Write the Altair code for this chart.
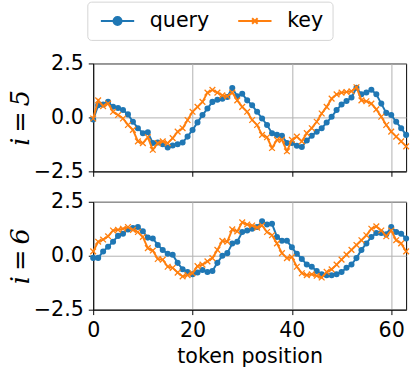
import altair as alt
import pandas as pd

positions = list(range(64))

query_i5 = [-0.10, 0.56, 0.60, 0.72, 0.49, 0.44, 0.34, 0.14,
            -0.20, -0.50, -0.73, -0.69, -1.19, -1.16, -1.24, -1.39,
            -1.30, -1.24, -1.16, -0.89, -0.58, -0.23, 0.11, 0.41,
            0.72, 0.82, 0.87, 0.95, 1.36, 0.98, 1.10, 0.79,
            0.56, 0.26, -0.05, -0.35, -0.73, -0.81, -0.85, -1.19,
            -1.19, -1.31, -1.37, -1.07, -0.85, -0.66, -0.50, -0.24,
            0.03, 0.34, 0.60, 0.76, 0.92, 1.37, 1.07, 1.15,
            1.28, 1.07, 0.64, 0.21, 0.11, -0.20, -0.50, -0.81]
key_i5 = [-0.05, 0.79, 0.52, 0.64, 0.26, 0.11, -0.05, -0.35,
          -0.58, -1.11, -1.19, -0.92, -1.50, -1.19, -1.11, -1.19,
          -0.96, -0.66, -0.50, -0.12, 0.26, 0.49, 0.72, 1.15,
          1.28, 1.15, 1.02, 0.98, 1.15, 0.79, 0.49, 0.26,
          -0.12, -0.35, -0.81, -0.92, -1.42, -1.04, -1.04, -1.57,
          -1.04, -0.89, -1.11, -0.73, -0.50, -0.20, 0.18, 0.49,
          0.87, 1.07, 1.15, 1.18, 1.21, 1.40, 0.79, 0.75,
          0.64, 0.37, 0.03, -0.35, -0.66, -0.89, -1.11, -1.34]
query_i6 = [-0.10, -0.10, 0.20, 0.42, 0.65, 0.92, 1.02, 1.22,
            1.28, 1.33, 1.13, 0.84, 0.80, 0.50, 0.27, 0.09,
            0.05, -0.33, -0.63, -0.75, -0.86, -0.78, -0.66, -0.75,
            -0.71, -0.33, 0.00, 0.12, 0.57, 0.65, 1.10, 1.17,
            1.25, 1.33, 1.60, 1.45, 1.48, 0.87, 0.69, 0.69,
            0.39, 0.09, -0.15, -0.41, -0.51, -0.71, -0.86, -0.90,
            -0.90, -0.86, -0.75, -0.56, -0.41, -0.11, 0.27, 0.57,
            0.87, 1.05, 1.05, 0.99, 1.33, 1.10, 1.02, 0.80]
key_i6 = [0.20, 0.65, 0.75, 0.90, 1.17, 1.20, 1.25, 1.33,
          1.20, 1.10, 0.87, 0.35, 0.24, -0.15, -0.18, -0.51,
          -0.56, -0.78, -0.96, -0.90, -0.81, -0.48, -0.41, -0.26,
          -0.11, 0.27, 0.69, 0.65, 1.22, 1.13, 1.55, 1.45,
          1.40, 1.30, 1.40, 1.10, 0.95, 0.57, 0.12, -0.11,
          -0.06, -0.51, -0.81, -0.90, -0.86, -0.93, -1.01, -0.75,
          -0.63, -0.41, -0.18, 0.05, 0.27, 0.50, 0.72, 0.95,
          1.25, 1.36, 1.17, 0.90, 1.17, 0.72, 0.57, 0.20]

series_names = ["query", "key"]
panel_titles = ["i\u2009=\u20095", "i\u2009=\u20096"]
x_ticks = [0, 20, 40, 60]
y_ticks = [-2.5, 0.0, 2.5]
x_title = "token position"

BLUE = "#1f77b4"
ORANGE = "#ff7f0e"
X_PATH = "M-1,-1L1,1M-1,1L1,-1"
# legend glyphs: a line 6 units wide with the marker in the middle
LEG_QUERY = "M-3,0L3,0M0.72,0A0.72,0.72 0 1,1 -0.72,0A0.72,0.72 0 1,1 0.72,0Z"
LEG_KEY = "M-3,0L3,0M-0.5,-0.5L0.5,0.5M-0.5,0.5L0.5,-0.5"

W, H = 319, 110

xscale = alt.Scale(domain=[0, 63], nice=False, zero=False)
yscale = alt.Scale(domain=[-2.5, 2.5], nice=False)
ylabel_expr = "replace(format(datum.value, '.1f'), '-', '\u2212')"


def panel(q, k, title, bottom, legend):
    dq = pd.DataFrame({"pos": positions, "value": q})
    dk = pd.DataFrame({"pos": positions, "value": k})
    if bottom:
        xenc = alt.X("pos:Q", scale=xscale, title=x_title,
                     axis=alt.Axis(values=x_ticks, labels=True))
    else:
        xenc = alt.X("pos:Q", scale=xscale, title=None,
                     axis=alt.Axis(values=x_ticks, labels=False))
    yenc = alt.Y("value:Q", scale=yscale, title=title,
                 axis=alt.Axis(values=y_ticks, labelExpr=ylabel_expr))
    base_q = alt.Chart(dq).encode(x=xenc, y=yenc)
    base_k = alt.Chart(dk).encode(x=xenc, y=yenc)
    layers = [
        base_q.mark_line(color=BLUE, strokeWidth=2),
        base_q.mark_point(filled=True, shape="circle", size=38, color=BLUE, opacity=1),
        base_k.mark_line(color=ORANGE, strokeWidth=2),
        base_k.mark_point(filled=False, shape=X_PATH, size=34, color=ORANGE,
                          strokeWidth=1.3, opacity=1),
    ]
    if legend:
        dl = pd.DataFrame({"series": series_names, "pos": [10, 10], "value": [0, 0]})
        leg = alt.Legend(title=None, orient="none", direction="horizontal",
                         legendX=-6, legendY=-63,
                         labelFontSize=21, labelFont="DejaVu Sans", labelColor="black",
                         symbolSize=128, symbolStrokeWidth=2, symbolOpacity=1,
                         symbolOffset=11.3,
                         padding=9, labelOffset=22.4, columnPadding=24,
                         cornerRadius=4, strokeColor="#d4d4d4", fillColor="white")
        sc_col = alt.Scale(domain=series_names, range=[BLUE, ORANGE])
        sc_shape = alt.Scale(domain=series_names, range=[LEG_QUERY, LEG_KEY])
        layers.append(
            alt.Chart(dl).mark_point(filled=True, opacity=0).encode(
                x=xenc, y=yenc,
                fill=alt.Fill("series:N", scale=sc_col, legend=leg),
                stroke=alt.Stroke("series:N", scale=sc_col, legend=leg),
                shape=alt.Shape("series:N", scale=sc_shape, legend=leg),
            )
        )
    return alt.layer(*layers).properties(width=W, height=H)


top = panel(query_i5, key_i5, panel_titles[0], False, True)
bot = panel(query_i6, key_i6, panel_titles[1], True, False)

chart = alt.vconcat(top, bot, spacing=31, bounds="flush").properties(
    padding={"left": 7, "top": -3, "right": 0, "bottom": 10}
).configure_view(
    stroke="black", strokeWidth=1
).configure_axis(
    labelFont="DejaVu Sans", labelFontSize=21, labelColor="black",
    titleFont="DejaVu Sans", titleFontSize=21, titleColor="black", titleFontWeight="normal",
    tickColor="black", tickSize=5, tickWidth=1, labelPadding=5,
    domainColor="black", domainWidth=1,
    gridColor="#b0b0b0", gridWidth=1,
).configure_axisX(
    titlePadding=6, labelFlush=False
).configure_axisY(
    titleFont="DejaVu Serif", titleFontStyle="italic", titleFontSize=26,
    titlePadding=0,
)

chart.save("out.html", embed_options={"renderer": "svg", "actions": False})
